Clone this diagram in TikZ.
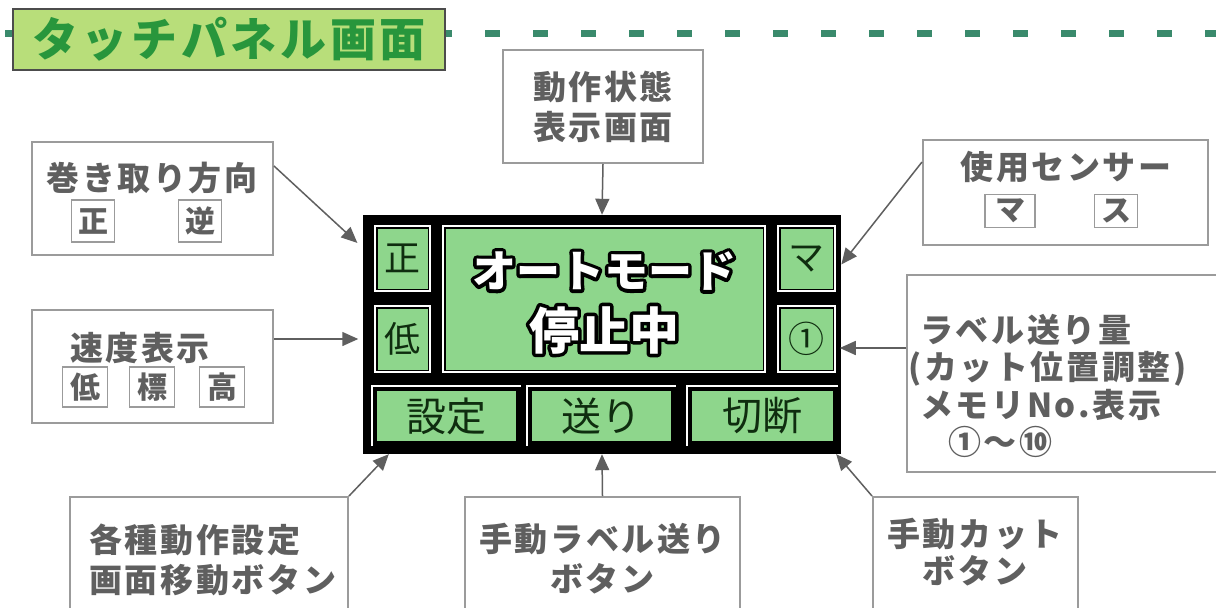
\documentclass[tikz,border=0pt]{standalone}
\usepackage{fontspec}
\usetikzlibrary{arrows.meta}
\newfontfamily\jp{Noto Sans CJK JP}[LetterSpace=8]
\newfontfamily\jpp{Noto Sans CJK JP}
\definecolor{gristexte}{RGB}{95,95,95}
\definecolor{griscadre}{RGB}{155,155,155}
\definecolor{grisfleche}{RGB}{95,95,95}
\definecolor{vertecran}{RGB}{142,214,140}
\definecolor{verttitre}{RGB}{184,222,122}
\definecolor{verttexte}{RGB}{40,150,60}
\definecolor{tirets}{RGB}{58,138,108}
\definecolor{encre}{RGB}{15,45,15}
% texte blanc cerne de noir
\newcommand\cerne[1]{\rlap{\special{pdf:literal direct 0 G 1 Tr 7 w 1 j}#1\special{pdf:literal direct 0 Tr}}#1}
\begin{document}
\begin{tikzpicture}[x=1pt,y=-1pt,inner sep=0pt,
    cadre/.style={draw=griscadre,line width=2pt,fill=white},
    etiq/.style={text=gristexte,font=\jp\bfseries\fontsize{33}{40}\selectfont},
    case/.style={draw=griscadre,line width=1.5pt,text=gristexte,font=\jp\bfseries\fontsize{30}{30}\selectfont},
    touche/.style={fill=vertecran,draw=black,line width=1.5pt,double=white,double distance=2pt},
    bouton/.style={fill=vertecran,draw=black,line width=2pt},
    ecrit/.style={text=encre,font=\jpp\fontsize{36}{36}\selectfont},
    fleche/.style={draw=grisfleche,line width=1.5pt,-{Triangle[length=16pt,width=14pt]}}]
    % zone de dessin
    \path[use as bounding box,clip] (0,0) rectangle (1216,608);
    \fill[white] (0,0) rectangle (1216,608);
    % titre et tirets
    \draw[tirets,line width=7pt,dash pattern=on 15pt off 33pt] (5,33) -- (1216,33);
    \node[draw=black!70,line width=2pt,fill=verttitre,minimum width=432,minimum height=61,
      text=verttexte,font=\jp\bfseries\fontsize{46}{46}\selectfont] (titre) at (229,39.5) {タッチパネル画面};
    % cadres explicatifs
    \node[cadre,minimum width=241,minimum height=113] (enroul) at (152.5,198.5) {};
    \node[etiq] (tenroul) at (152,178) {巻き取り方向};
    \node[case,minimum width=43,minimum height=42] (cpos) at (93,221) {正};
    \node[case,minimum width=43,minimum height=42] (cinv) at (200,221) {逆};
    \node[cadre,minimum width=241,minimum height=113] (vitesse) at (152.5,366.5) {};
    \node[etiq] (tvitesse) at (140,348) {速度表示};
    \node[case,minimum width=45,minimum height=40] (cbas) at (85,387) {低};
    \node[case,minimum width=45,minimum height=40] (cstd) at (152,387) {標};
    \node[case,minimum width=45,minimum height=40] (chaut) at (222,387) {高};
    \node[cadre,minimum width=200,minimum height=113,etiq,align=center] (etat) at (603,106.5) {動作状態\\表示画面};
    \node[cadre,minimum width=285,minimum height=105] (capteur) at (1065.5,192.5) {};
    \node[etiq] (tcapteur) at (1066,167) {使用センサー};
    \node[case,minimum width=50,minimum height=33] (cmar) at (1010,211) {マ};
    \node[case,minimum width=43,minimum height=33] (ctra) at (1116,211) {ス};
    \node[cadre,minimum width=333,minimum height=197] (avance) at (1073.5,373.5) {};
    \node[etiq,align=left,anchor=west,font=\jp\bfseries\fontsize{33}{37.5}\selectfont] (tavance) at (908,386)
      {\hspace*{12pt}ラベル送り量\\(カット位置調整)\\\hspace*{12pt}メモリNo.表示\\\hspace*{40pt}①〜⑩};
    \node[cadre,minimum width=278,minimum height=123] (reglage) at (209,558.5) {};
    \node[etiq,align=left,anchor=west] (treglage) at (89,560) {各種動作設定\\画面移動ボタン};
    \node[cadre,minimum width=275,minimum height=123,etiq,align=center] (avmanu) at (602.5,558.5) {手動ラベル送り\\ボタン};
    \node[cadre,minimum width=205,minimum height=123] (coupe) at (975.5,558.5) {};
    \node[etiq,align=center,font=\jp\bfseries\fontsize{33}{37}\selectfont] (tcoupe) at (975,552) {手動カット\\ボタン};
    % panneau tactile
    \node[fill=black,minimum width=478,minimum height=239] (panneau) at (602,334.5) {};
    \node[touche,minimum width=55,minimum height=65,ecrit] (bsens) at (402.5,258.5) {正};
    \node[touche,minimum width=55,minimum height=66,ecrit] (bvit) at (402.5,339) {低};
    \node[touche,minimum width=322,minimum height=146] (ecran) at (604,299) {};
    \node[touche,minimum width=57,minimum height=65,ecrit] (bcapt) at (806.5,258.5) {マ};
    \node[touche,minimum width=57,minimum height=66,ecrit] (bmem) at (806.5,339) {①};
    \node[bouton,minimum width=141,minimum height=52,ecrit,font=\jpp\fontsize{40}{40}\selectfont] (bregl) at (446.5,416) {設定};
    \node[bouton,minimum width=141,minimum height=52,ecrit,font=\jpp\fontsize{40}{40}\selectfont] (bavance) at (601.5,416) {送り};
    \node[bouton,minimum width=143,minimum height=52,ecrit,font=\jpp\fontsize{40}{40}\selectfont] (bcoupe) at (762.5,416) {切断};
    \foreach \b in {bregl,bavance,bcoupe}
      \draw[white,line width=2pt] ([shift={(-3pt,-3pt)}]\b.south west) -- ([shift={(-3pt,3pt)}]\b.north west)
        -- ([shift={(3pt,3pt)}]\b.north east);
    % message de l'ecran
    \node[text=white,font=\jpp\bfseries\fontsize{44}{44}\selectfont] (mode) at (604,271) {\cerne{オートモード}};
    \node[text=white,font=\jpp\bfseries\fontsize{50}{50}\selectfont] (arret) at (604,330) {\cerne{停止中}};
    % fleches
    \coordinate (cmem) at ([yshift=-9pt]bmem.east);
    \coordinate (ccapt) at ([yshift=-13pt]bcapt.east);
    \draw[fleche,shorten >=23pt] ([yshift=-25pt]enroul.north east) -- (bsens.west);
    \draw[fleche,shorten >=16pt] (vitesse.east |- bvit.west) -- (bvit.west);
    \draw[fleche] (etat.south) -- (panneau.north);
    \draw[fleche,shorten >=9pt] ([yshift=-23pt]capteur.north west) -- (ccapt);
    \draw[fleche,shorten >=4pt] (avance.west |- cmem) -- (cmem);
    \draw[fleche] (reglage.north east) -- ([xshift=26pt]panneau.south west);
    \draw[fleche] (avmanu.north) -- (panneau.south);
    \draw[fleche] (coupe.north west) -- ([xshift=-5pt]panneau.south east);
\end{tikzpicture}
\end{document}
